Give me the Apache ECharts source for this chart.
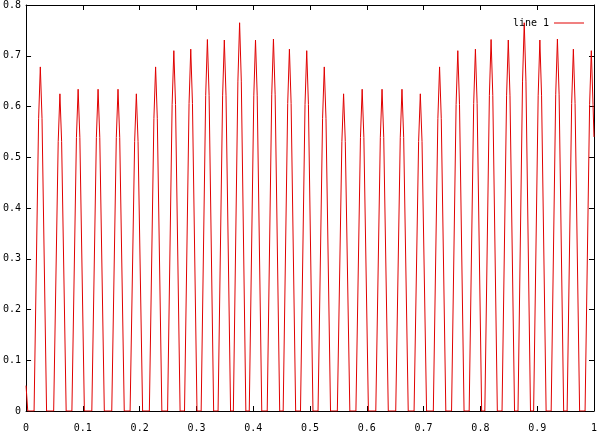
<!DOCTYPE html>
<html>
<head>
<meta charset="utf-8">
<script src="https://cdn.jsdelivr.net/npm/echarts@6/dist/echarts.min.js"></script>
<style>
html,body{margin:0;padding:0;background:#fff;}
#chart{width:600px;height:435px;}
</style>
</head>
<body>
<div id="chart"></div>
<script>
// Series "line 1": x values and y values
const seriesName = "line 1";
const xValues = [
  0, 0.003,
  0.0141, 0.0221, 0.0251, 0.0281, 0.0361,
  0.0486, 0.0566, 0.0596, 0.0626, 0.0706,
  0.0807, 0.0887, 0.0917, 0.0947, 0.1027,
  0.1158, 0.1238, 0.1268, 0.1298, 0.1378,
  0.1509, 0.1589, 0.1619, 0.1649, 0.1729,
  0.1832, 0.1912, 0.1942, 0.1972, 0.2052,
  0.2171, 0.2251, 0.2281, 0.2311, 0.2391,
  0.2492, 0.2572, 0.2602, 0.2632, 0.2712,
  0.2790, 0.2870, 0.2900, 0.2930, 0.3010,
  0.3083, 0.3163, 0.3193, 0.3223, 0.3303,
  0.3381, 0.3461, 0.3491, 0.3521, 0.3601,
  0.3650, 0.3730, 0.3760, 0.3790, 0.3870,
  0.3930, 0.4010, 0.4040, 0.4070, 0.4150,
  0.4246, 0.4326, 0.4356, 0.4386, 0.4466,
  0.4527, 0.4607, 0.4637, 0.4667, 0.4747,
  0.4832, 0.4912, 0.4942, 0.4972, 0.5052,
  0.5141, 0.5221, 0.5251, 0.5281, 0.5361,
  0.5481, 0.5561, 0.5591, 0.5621, 0.5701,
  0.5808, 0.5888, 0.5918, 0.5948, 0.6028,
  0.6158, 0.6238, 0.6268, 0.6298, 0.6378,
  0.6509, 0.6589, 0.6619, 0.6649, 0.6729,
  0.6832, 0.6912, 0.6942, 0.6972, 0.7052,
  0.7171, 0.7251, 0.7281, 0.7311, 0.7391,
  0.7492, 0.7572, 0.7602, 0.7632, 0.7712,
  0.7802, 0.7882, 0.7912, 0.7942, 0.8022,
  0.8078, 0.8158, 0.8188, 0.8218, 0.8298,
  0.8381, 0.8461, 0.8491, 0.8521, 0.8601,
  0.8662, 0.8742, 0.8772, 0.8802, 0.8882,
  0.8937, 0.9017, 0.9047, 0.9077, 0.9157,
  0.9246, 0.9326, 0.9356, 0.9386, 0.9466,
  0.9527, 0.9607, 0.9637, 0.9667, 0.9747,
  0.9843, 0.9923, 0.9953, 0.9983, 1.0
];
const yValues = [
  0.05, 0,
  0, 0.576, 0.678, 0.576, 0,
  0, 0.531, 0.625, 0.531, 0,
  0, 0.539, 0.634, 0.539, 0,
  0, 0.539, 0.634, 0.539, 0,
  0, 0.539, 0.634, 0.539, 0,
  0, 0.531, 0.625, 0.531, 0,
  0, 0.576, 0.678, 0.576, 0,
  0, 0.604, 0.710, 0.604, 0,
  0, 0.606, 0.713, 0.606, 0,
  0, 0.622, 0.732, 0.622, 0,
  0, 0.621, 0.731, 0.621, 0,
  0, 0.650, 0.765, 0.650, 0,
  0, 0.621, 0.731, 0.621, 0,
  0, 0.623, 0.733, 0.623, 0,
  0, 0.606, 0.713, 0.606, 0,
  0, 0.604, 0.710, 0.604, 0,
  0, 0.576, 0.678, 0.576, 0,
  0, 0.531, 0.625, 0.531, 0,
  0, 0.539, 0.634, 0.539, 0,
  0, 0.539, 0.634, 0.539, 0,
  0, 0.539, 0.634, 0.539, 0,
  0, 0.531, 0.625, 0.531, 0,
  0, 0.576, 0.678, 0.576, 0,
  0, 0.604, 0.710, 0.604, 0,
  0, 0.606, 0.713, 0.606, 0,
  0, 0.622, 0.732, 0.622, 0,
  0, 0.621, 0.731, 0.621, 0,
  0, 0.650, 0.765, 0.650, 0,
  0, 0.621, 0.731, 0.621, 0,
  0, 0.623, 0.733, 0.623, 0,
  0, 0.606, 0.713, 0.606, 0,
  0, 0.604, 0.710, 0.604, 0.54
];
// Axis ranges and tick steps
const xRange = [0, 1];
const xStep = 0.1;
const yRange = [0, 0.8];
const yStep = 0.1;

const points = xValues.map((x, i) => [x, yValues[i]]);
const font = "'DejaVu Sans Mono', monospace";

function axisBase(min, max, step, showLabel, pos) {
  return {
    type: 'value', min: min, max: max, interval: step, position: pos,
    axisLine: { show: true, onZero: false, lineStyle: { color: '#000', width: 1 } },
    axisTick: { show: true, inside: true, length: 5, lineStyle: { color: '#000', width: 1 } },
    axisLabel: { show: showLabel, color: '#000', fontFamily: font, fontSize: 10 },
    splitLine: { show: false }
  };
}

const chart = echarts.init(document.getElementById('chart'), null, { renderer: 'canvas' });
const xBottom = axisBase(xRange[0], xRange[1], xStep, true, 'bottom');
xBottom.axisLabel.margin = 12;
const yLeft = axisBase(yRange[0], yRange[1], yStep, true, 'left');
yLeft.axisLabel.margin = 5;
chart.setOption({
  animation: false,
  backgroundColor: '#fff',
  grid: { left: 25, right: 5, top: 5, bottom: 24, containLabel: false },
  legend: {
    data: [seriesName], right: 11, top: 13, align: 'right',
    itemWidth: 30, itemHeight: 1, icon: 'rect', itemGap: 5,
    textStyle: { color: '#000', fontFamily: font, fontSize: 10 }
  },
  xAxis: [xBottom, axisBase(xRange[0], xRange[1], xStep, false, 'top')],
  yAxis: [yLeft, axisBase(yRange[0], yRange[1], yStep, false, 'right')],
  series: [{
    name: seriesName, type: 'line', data: points, xAxisIndex: 0, yAxisIndex: 0,
    showSymbol: false, symbol: 'none', sampling: null,
    lineStyle: { color: '#e00000', width: 1 }, itemStyle: { color: '#e00000' }
  }]
});
</script>
</body>
</html>
